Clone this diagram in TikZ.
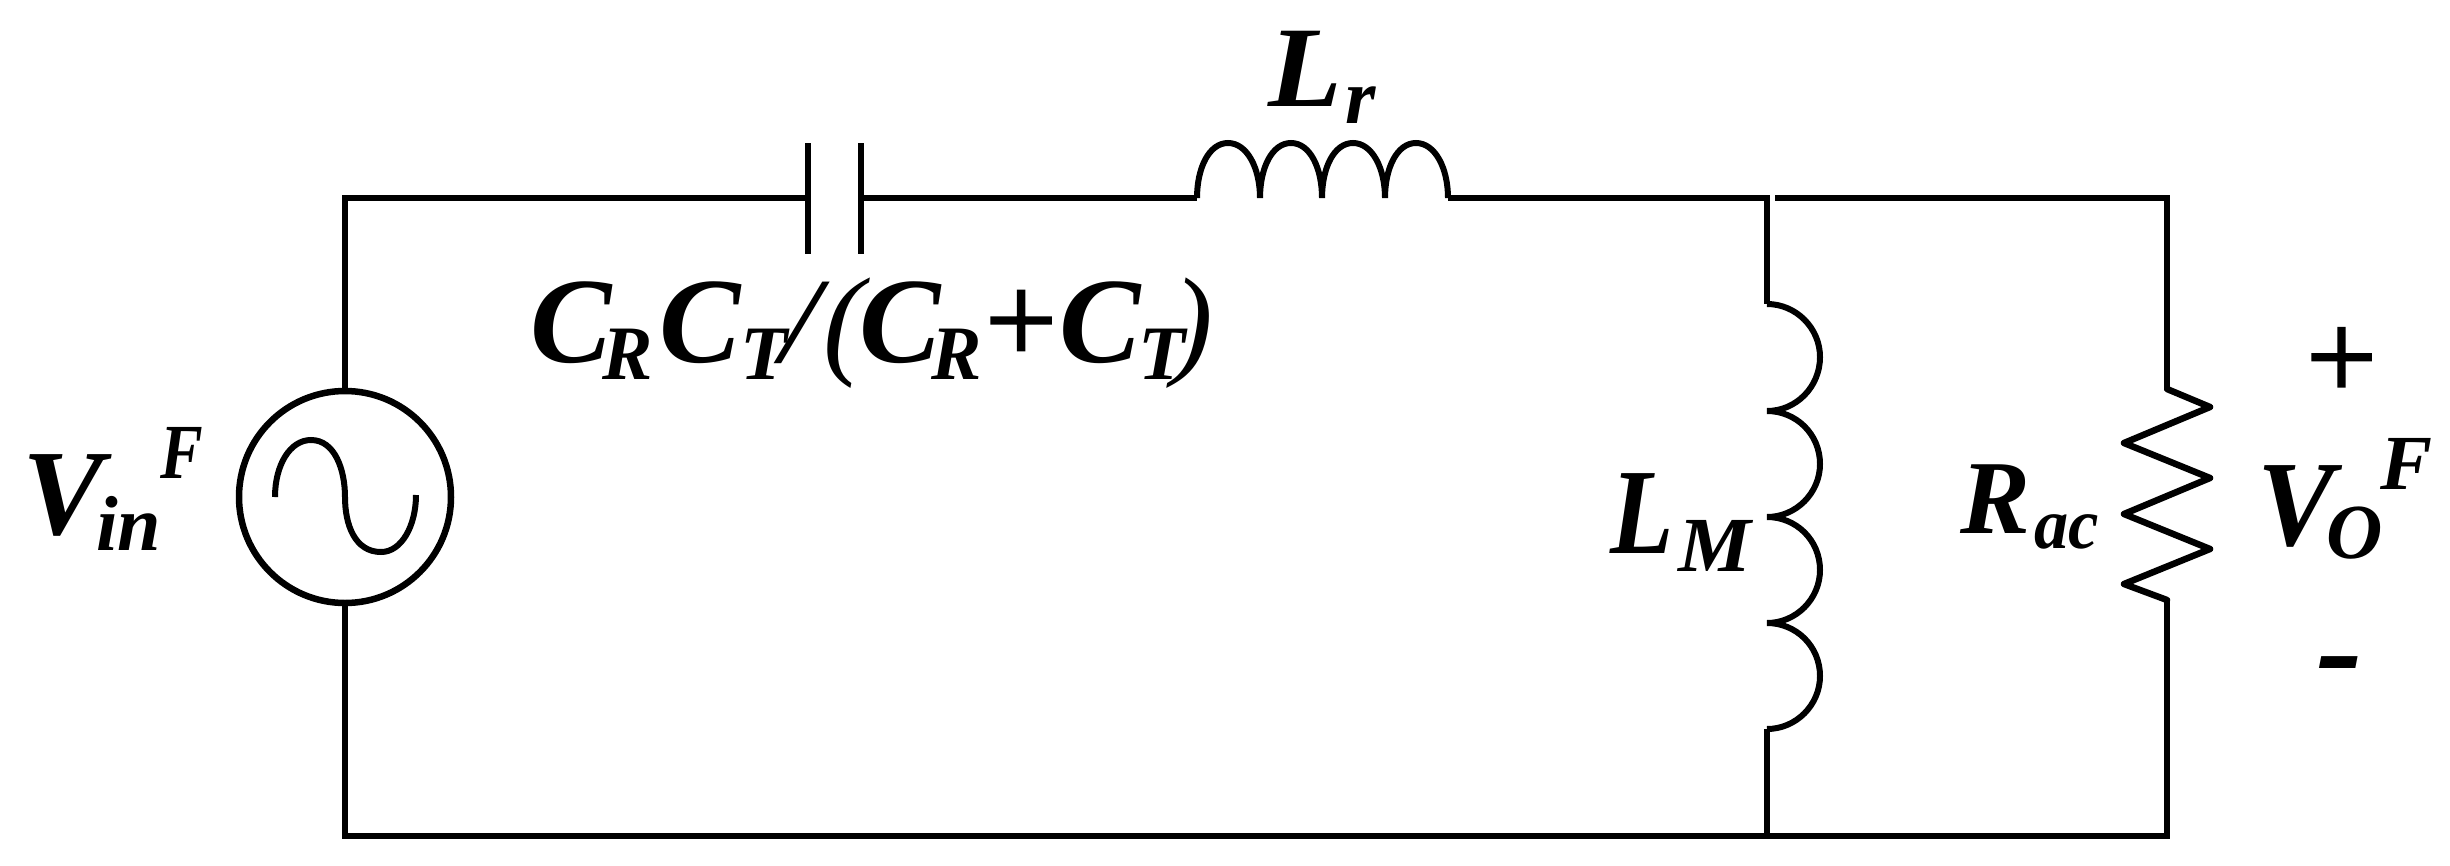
\documentclass[tikz,border=0pt]{standalone}
\usepackage{fontspec}
\setmainfont{Liberation Serif}
\newcommand{\lab}[6]{\node[lbl] (#1) at (#2,#3) {\scalebox{#5}[1]{\fontsize{#4}{#4}\selectfont #6}};}
\newfontfamily\heavyplus[FakeBold=1.6]{Liberation Serif}
\tikzset{
  wire/.style={line width=6pt,line cap=butt,line join=miter},
  lbl/.style={anchor=base west,inner sep=0pt,outer sep=0pt},
  source/.style={circle,draw,line width=6.5pt,minimum size=212pt,inner sep=0pt,outer sep=0pt}
}
\begin{document}
\begin{tikzpicture}[x=1pt,y=-1pt]
\useasboundingbox (0,0) rectangle (2450,865);
\node[source] (src) at (345,497) {};
\coordinate (tl) at (345,198);
\coordinate (bl) at (345,836);
\coordinate (c1) at (808,198);
\coordinate (c1t) at (808,143);
\coordinate (c1b) at (808,254);
\coordinate (c2) at (861,198);
\coordinate (c2t) at (861,143);
\coordinate (c2b) at (861,254);
\coordinate (lr1) at (1197,198);
\coordinate (lr2) at (1448,198);
\coordinate (tm) at (1767,198);
\coordinate (tm2) at (1775,198);
\coordinate (tr) at (2167,198);
\coordinate (lm1) at (1767,304);
\coordinate (lm2) at (1767,729);
\coordinate (bm) at (1767,836);
\coordinate (br) at (2167,836);
\coordinate (r1) at (2167,389);
\coordinate (r2) at (2167,600);
% wires
\draw[wire] (src.north) -- (tl) -- (c1);
\draw[wire] (src.south) -- (bl) -- (br) -- (r2);
\draw[wire] (c2) -- (lr1);
\draw[wire] (lr2) -- (tm) -- (lm1);
\draw[wire] (tm2) -- (tr) -- (r1);
\draw[wire] (lm2) -- (bm);
% capacitor
\draw[wire,line width=5.5pt] (c1t) -- (c1b);
\draw[wire,line width=5.5pt] (c2t) -- (c2b);
% source sine
\draw[wire] (275,497) .. controls (275,465) and (290,440) .. (311,440)
  .. controls (335,440) and (345,470) .. (345,497)
  .. controls (345,525) and (355,552) .. (381,552)
  .. controls (402,552) and (416,525) .. (416,495);
% Lr
\draw[wire] (lr1)
  .. controls (1197,168) and (1209,143) .. (1228,143) .. controls (1247,143) and (1260,168) .. (1260,198)
  .. controls (1260,168) and (1272,143) .. (1291,143) .. controls (1310,143) and (1322,168) .. (1322,198)
  .. controls (1322,168) and (1334,143) .. (1353,143) .. controls (1372,143) and (1385,168) .. (1385,198)
  .. controls (1385,168) and (1397,143) .. (1416,143) .. controls (1435,143) and (1448,168) .. (lr2);
% LM
\draw[wire] (lm1)
  .. controls (1796,304) and (1820,328) .. (1820,357) .. controls (1820,387) and (1796,411) .. (1767,411)
  .. controls (1796,411) and (1820,434) .. (1820,464) .. controls (1820,493) and (1796,517) .. (1767,517)
  .. controls (1796,517) and (1820,540) .. (1820,570) .. controls (1820,599) and (1796,623) .. (1767,623)
  .. controls (1796,623) and (1820,646) .. (1820,676) .. controls (1820,705) and (1796,729) .. (lm2);
% Rac
\draw[wire,line width=6.5pt,line join=round,line cap=round] (r1) -- (2210,407) -- (2124,443) -- (2210,478) -- (2124,514) -- (2210,549) -- (2124,584) -- (r2);
% labels
\lab{ca}{530}{362}{122}{1}{\textbf{\textit{C}}}
\lab{cb}{602}{379}{77}{0.98}{\textbf{\textit{R}}}
\lab{cc}{659}{362}{122}{1}{\textbf{\textit{C}}}
\lab{cd}{740}{379}{77}{1}{\textbf{\textit{T}}}
\lab{ce}{780}{362}{122}{1.15}{\textit{/}}
\lab{cf}{823}{362}{122}{1}{\textit{(}}
\lab{cg}{859}{362}{122}{1}{\textbf{\textit{C}}}
\lab{ch}{931}{379}{77}{0.98}{\textbf{\textit{R}}}
\lab{ci}{985}{363}{128}{1}{\heavyplus +}
\lab{cj}{1059}{362}{122}{1}{\textbf{\textit{C}}}
\lab{ck}{1138}{379}{77}{1}{\textbf{\textit{T}}}
\lab{cl}{1172}{362}{122}{1}{\textit{)}}
\lab{va}{22}{534}{122}{1}{\textbf{\textit{V}}}
\lab{vb}{96}{550}{78}{1}{\textbf{\textit{in}}}
\lab{vc}{160}{478}{78}{0.82}{\textbf{\textit{F}}}
\lab{la}{1268}{106}{115}{1.05}{\textbf{\textit{L}}}
\lab{lb}{1345}{123}{78}{1}{\textbf{\textit{r}}}
\lab{ma}{1610}{553}{122}{0.85}{\textbf{\textit{L}}}
\lab{mb}{1678}{571}{78}{1.05}{\textbf{\textit{M}}}
\lab{ra}{1960}{533}{105}{1}{\textbf{\textit{R}}}
\lab{rb}{2034}{548}{72}{0.95}{\textbf{\textit{ac}}}
\lab{oa}{2257}{545}{122}{0.95}{\textbf{\textit{V}}}
\lab{ob}{2326}{558}{78}{1}{\textbf{\textit{O}}}
\lab{oc}{2380}{489}{78}{1}{\textbf{\textit{F}}}
\lab{pl}{2306}{399}{126}{1}{\heavyplus +}
\lab{mi}{2316}{695}{140}{1}{\textbf{\textit{-}}}
\end{tikzpicture}
\end{document}
